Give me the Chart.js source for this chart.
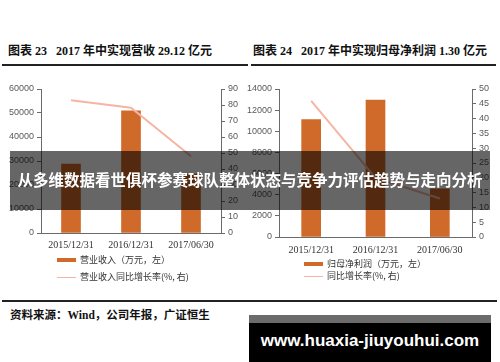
<!DOCTYPE html>
<html lang="zh-CN">
<head>
<meta charset="utf-8">
<title>2017年中营收与归母净利润</title>
<script src="https://cdn.jsdelivr.net/npm/chart.js@4.4.1/dist/chart.umd.min.js"></script>
<style>
  html, body { margin: 0; padding: 0; background: #fff; }
  #page { position: relative; width: 500px; height: 362px; overflow: hidden; background: #fff; }
  canvas { position: absolute; }
  .title { position: absolute; top: 41px; font: bold 12px "Liberation Serif", "Noto Sans CJK SC", serif; color: #111; white-space: nowrap; }
  .rule { position: absolute; background: #222; }
  .legend { position: absolute; font: 9px "Noto Sans CJK SC", sans-serif; color: #333; white-space: nowrap; line-height: 12px; }
  .legend .sw { position: absolute; left: 0; }
  .legend .tx { position: absolute; left: 23px; top: 0; }
  .source { position: absolute; left: 10px; top: 306px; font: bold 11.5px "Liberation Serif", "Noto Sans CJK SC", serif; color: #111; white-space: nowrap; }
  #banner { position: absolute; left: 10px; top: 151px; width: 480px; height: 59px; background: rgba(0,0,0,0.6); }
  #banner span { position: absolute; left: 0; top: 20px; width: 480px; text-align: center; font: bold 15.5px "Noto Sans CJK SC", sans-serif; color: #fff; line-height: 16px; white-space: nowrap; }
  #mark { position: absolute; left: 249px; top: 315px; width: 242px; height: 47px; box-sizing: border-box; background: #000; border-top: 8px solid #6b6b6b; }
  #mark span { position: absolute; left: 0; top: 8px; width: 242px; text-align: center; font: bold 17px "Liberation Sans", Arial, sans-serif; color: #fff; line-height: 20px; }
</style>
</head>
<body>
<div id="page">
  <div class="title" style="left:8px;">图表 23&nbsp;&nbsp; 2017 年中实现营收 29.12 亿元</div>
  <div class="title" style="left:253px;">图表 24&nbsp;&nbsp; 2017 年中实现归母净利润 1.30 亿元</div>
  <div class="rule" style="left:2px; top:64px; width:246px; height:2px;"></div>
  <div class="rule" style="left:251px; top:64px; width:245px; height:2px;"></div>

  <canvas id="graficaIngresos" width="250" height="175" style="left:0; top:80px;"></canvas>
  <canvas id="graficaUtilidad" width="260" height="175" style="left:240px; top:80px;"></canvas>

  <div id="legend-left"></div>
  <div id="legend-right"></div>

  <div class="rule" style="left:2px; top:300px; width:495px; height:1.5px;"></div>
  <div class="source">资料来源：Wind，公司年报，广证恒生</div>

  <div id="banner"><span>从多维数据看世俱杯参赛球队整体状态与竞争力评估趋势与走向分析</span></div>
  <div id="mark"><span>www.huaxia-jiuyouhui.com</span></div>
</div>

<script>
// datos
const categorias = ['2015/12/31', '2016/12/31', '2017/06/30'];

const ingresos = [28700, 50900, 24500];          // 万元, eje izq
const ingresosCrec = [83, 78.3, 48];             // %, eje der
const utilidad = [11100, 12950, 4550];           // 万元, eje izq
const utilidadCrec = [46, 20, 13];               // %, eje der

const etiquetasIzq = ['营业收入（万元，左）', '营业收入同比增长率(%, 右)'];
const etiquetasDer = ['归母净利润（万元，左）', '同比增长率(%, 右)'];

const COLOR_BARRA = '#D06A2A';
const COLOR_LINEA = '#F5B5A4';
const COLOR_EJE = '#6b6b6b';

Chart.defaults.animation = false;

// ejes Y con ancho fijo para que el area del grafico quede donde debe
function ejeY(pos, max, paso, ancho) {
    return {
        position: pos,
        min: 0,
        max: max,
        ticks: {
            stepSize: paso,
            color: '#595959',
            font: { family: 'Liberation Sans', size: 9 },
            padding: 3,
            callback: v => String(v)
        },
        grid: { drawOnChartArea: false, tickLength: 4, color: COLOR_EJE },
        border: { display: true, color: COLOR_EJE },
        afterFit: s => { s.width = ancho; }
    };
}

function crearGrafica(id, barras, linea, labels, ejes) {
    const ctx = document.getElementById(id).getContext('2d');
    return new Chart(ctx, {
        data: {
            labels: categorias,
            datasets: [
                {
                    type: 'line',
                    label: labels[1],
                    data: linea,
                    yAxisID: 'y1',
                    borderColor: COLOR_LINEA,
                    borderWidth: 2,
                    pointRadius: 0,
                    tension: 0,
                    order: 0
                },
                {
                    type: 'bar',
                    label: labels[0],
                    data: barras,
                    yAxisID: 'y',
                    backgroundColor: COLOR_BARRA,
                    barThickness: 19,
                    order: 1
                }
            ]
        },
        options: {
            responsive: false,
            layout: { padding: { top: 9, left: 0, right: 0, bottom: 0 } },
            plugins: { legend: { display: false }, tooltip: { enabled: false } },
            scales: {
                x: {
                    type: 'category',
                    offset: true,
                    grid: { display: false, drawTicks: false },
                    border: { display: true, color: COLOR_EJE },
                    ticks: {
                        color: '#333',
                        font: { family: 'Liberation Serif', size: 10 },
                        padding: ejes.xPad,
                        maxRotation: 0,
                        autoSkip: false
                    },
                    afterFit: s => { s.height = ejes.xAlto; }
                },
                y: ejeY('left', ejes.izqMax, ejes.izqPaso, ejes.izqAncho),
                y1: ejeY('right', ejes.derMax, ejes.derPaso, ejes.derAncho)
            }
        }
    });
}

// leyenda en html, a partir de las etiquetas de los datasets
function crearLeyenda(id, labels, x, filas) {
    const cont = document.getElementById(id);
    let html = '';
    labels.forEach((txt, i) => {
        const y = filas[i];
        const sw = i === 0
            ? `<span class="sw" style="top:4px; width:19px; height:4px; background:${COLOR_BARRA};"></span>`
            : `<span class="sw" style="top:5.5px; width:19px; height:1.5px; background:${COLOR_LINEA};"></span>`;
        html += `<div class="legend" style="left:${x}px; top:${y}px;">${sw}<span class="tx">${txt}</span></div>`;
    });
    cont.innerHTML = html;
}

crearGrafica('graficaIngresos', ingresos, ingresosCrec, etiquetasIzq, {
    izqMax: 60000, izqPaso: 10000, izqAncho: 41,
    derMax: 90, derPaso: 10, derAncho: 29,
    xAlto: 22, xPad: 6
});

crearGrafica('graficaUtilidad', utilidad, utilidadCrec, etiquetasDer, {
    izqMax: 14000, izqPaso: 2000, izqAncho: 39,
    derMax: 50, derPaso: 5, derAncho: 28,
    xAlto: 18, xPad: 7
});

crearLeyenda('legend-left', etiquetasIzq, 57, [254, 271]);
crearLeyenda('legend-right', etiquetasDer, 304, [258, 270]);
</script>
</body>
</html>
